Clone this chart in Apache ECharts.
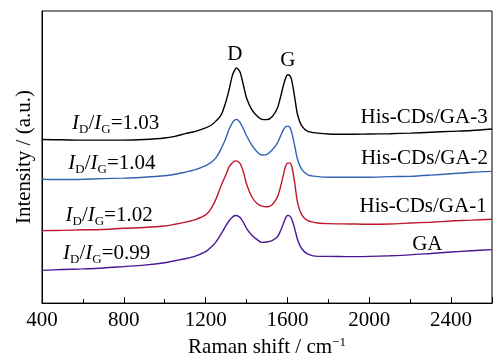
<!DOCTYPE html>
<html>
<head>
<meta charset="utf-8">
<script src="https://cdn.jsdelivr.net/npm/echarts@6/dist/echarts.min.js"></script>
<style>
  html, body { margin: 0; padding: 0; background: #fff; }
  #chart { width: 495px; height: 363px; }
</style>
</head>
<body>
<div id="chart"></div>
<script>
// Raman shift (cm^-1) sample positions shared by all spectra
const shift = [400, 500, 600, 700, 800, 900, 1000, 1050, 1100, 1150, 1200, 1225, 1250, 1275,
  1300, 1315, 1330, 1340, 1350, 1360, 1370, 1385, 1400, 1425, 1450, 1475, 1500, 1525, 1550,
  1565, 1580, 1590, 1600, 1610, 1620, 1635, 1650, 1670, 1700, 1750, 1800, 1900, 2000, 2100,
  2200, 2300, 2400, 2500, 2600];

// Stacked (offset) intensities, arbitrary units
const ga3 = [56.0, 55.9, 55.8, 55.8, 55.8, 56.0, 56.5, 57.1, 58.0, 58.8, 60.0, 60.8, 62.3, 64.3,
  69.2, 73.2, 77.8, 79.5, 80.5, 80.0, 78.8, 74.5, 70.2, 66.3, 64.1, 62.9, 62.8, 63.8, 66.6,
  70.2, 74.5, 76.8, 78.2, 78.0, 76.5, 70.6, 64.3, 60.7, 58.8, 58.2, 57.9, 57.8, 57.9, 58.0,
  58.2, 58.5, 58.8, 59.1, 59.6];
const ga2 = [42.4, 42.3, 42.4, 42.6, 42.8, 43.1, 43.6, 44.1, 44.8, 45.7, 47.1, 48.1, 49.7, 52.7,
  56.7, 59.6, 61.6, 62.5, 62.9, 62.5, 61.6, 59.6, 57.3, 54.2, 51.9, 50.7, 50.9, 52.4, 54.7,
  57.0, 59.3, 60.3, 60.6, 60.3, 58.7, 54.0, 49.0, 45.8, 43.9, 43.3, 43.1, 43.1, 43.1, 43.3,
  43.4, 43.8, 44.3, 44.8, 45.1];
const ga1 = [24.8, 24.9, 25.1, 25.2, 25.6, 25.9, 26.4, 27.0, 27.7, 28.6, 30.2, 32.2, 35.5, 40.1,
  44.1, 46.7, 48.0, 48.6, 48.7, 48.4, 47.6, 44.8, 40.8, 36.5, 34.2, 33.2, 33.0, 33.7, 36.2,
  39.5, 43.8, 46.7, 47.9, 48.0, 47.1, 41.4, 34.2, 30.2, 28.2, 27.4, 27.2, 27.1, 27.0, 27.1,
  27.4, 27.7, 28.1, 28.4, 28.7];
const ga = [11.2, 11.5, 11.7, 12.0, 12.5, 13.0, 13.8, 14.5, 15.2, 16.1, 17.6, 19.0, 20.9, 23.6,
  26.6, 28.2, 29.4, 29.9, 30.0, 29.7, 29.2, 27.6, 25.6, 23.3, 21.8, 20.8, 20.9, 21.4, 22.6,
  24.6, 27.2, 29.0, 30.0, 29.9, 28.9, 25.6, 21.6, 18.6, 16.8, 16.0, 16.0, 15.9, 16.0, 16.2,
  16.5, 17.0, 17.5, 17.9, 18.3];

const sampleNames = ['His-CDs/GA-3', 'His-CDs/GA-2', 'His-CDs/GA-1', 'GA'];
const ratios = ['1.03', '1.04', '1.02', '0.99'];
const peakNames = ['D', 'G'];
const xTicks = [400, 800, 1200, 1600, 2000, 2400];

const FONT = '"Liberation Serif", "Times New Roman", serif';
const colors = ['#000000', '#3163b3', '#c0182c', '#4a1796'];
const spectra = [ga3, ga2, ga1, ga];

// Annotation anchors in data coordinates: [shift, intensity]
const ratioAnchors = [[760, 61.6], [742, 47.7], [728, 29.9], [716, 17.1]];
const nameAnchors = [[2268, 63.4], [2270, 49.6], [2263, 33.1], [2284, 20.0]];
const peakAnchors = [[1343, 85.1], [1602, 82.9]];

const rich = {
  i: { fontFamily: FONT, fontSize: 21, fontStyle: 'italic', color: '#000' },
  s: { fontFamily: FONT, fontSize: 13, color: '#000', padding: [12, 0, 0, 0] },
  n: { fontFamily: FONT, fontSize: 21, color: '#000' }
};

function textPoint(coord, text) {
  return {
    coord: coord,
    symbol: 'rect',
    symbolSize: 1,
    itemStyle: { color: 'rgba(0,0,0,0)' },
    label: {
      show: true,
      position: 'inside',
      formatter: text,
      rich: rich,
      color: '#000',
      fontFamily: FONT,
      fontSize: 21
    }
  };
}

const series = spectra.map(function (vals, k) {
  const pts = [
    textPoint(ratioAnchors[k], '{i|I}{s|D}{n|/}{i|I}{s|G}{n|=' + ratios[k] + '}'),
    textPoint(nameAnchors[k], '{n|' + sampleNames[k] + '}')
  ];
  if (k === 0) {
    pts.push(textPoint(peakAnchors[0], '{n|' + peakNames[0] + '}'));
    pts.push(textPoint(peakAnchors[1], '{n|' + peakNames[1] + '}'));
  }
  return {
    name: sampleNames[k],
    type: 'line',
    data: shift.map(function (x, j) { return [x, vals[j]]; }),
    showSymbol: false,
    smooth: 0.3,
    lineStyle: { color: colors[k], width: 1.4 },
    itemStyle: { color: colors[k] },
    animation: false,
    markPoint: { silent: true, animation: false, data: pts }
  };
});

const chart = echarts.init(document.getElementById('chart'), null, { renderer: 'canvas' });
chart.setOption({
  animation: false,
  backgroundColor: '#fff',
  grid: {
    left: 42, right: -4, top: 11, bottom: 50,
    show: true, borderColor: '#000', borderWidth: 1, backgroundColor: 'transparent'
  },
  xAxis: {
    type: 'value',
    min: 400, max: 2600, interval: 400,
    name: 'Raman shift / cm{sup|\u22121}',
    nameLocation: 'middle',
    nameGap: 28,
    nameTextStyle: {
      fontFamily: FONT, fontSize: 21, color: '#000',
      rich: { sup: { fontFamily: FONT, fontSize: 13, color: '#000', padding: [0, 0, 10, 0] } }
    },
    axisLine: { show: true, lineStyle: { color: '#000', width: 1 } },
    axisTick: { show: true, inside: true, length: 6, lineStyle: { color: '#000' } },
    minorTick: { show: true, splitNumber: 2, length: 4, lineStyle: { color: '#000' } },
    splitLine: { show: false },
    axisLabel: {
      margin: 7, fontFamily: FONT, fontSize: 21, color: '#000',
      formatter: function (v) { return xTicks.indexOf(v) >= 0 ? String(v) : ''; }
    }
  },
  yAxis: {
    type: 'value',
    min: 0, max: 100,
    name: 'Intensity / (a.u.)',
    nameLocation: 'middle',
    nameGap: 7,
    nameTextStyle: { fontFamily: FONT, fontSize: 21, color: '#000' },
    axisLine: { show: true, lineStyle: { color: '#000', width: 1 } },
    axisTick: { show: false },
    axisLabel: { show: false },
    splitLine: { show: false }
  },
  series: series
});
</script>
</body>
</html>
